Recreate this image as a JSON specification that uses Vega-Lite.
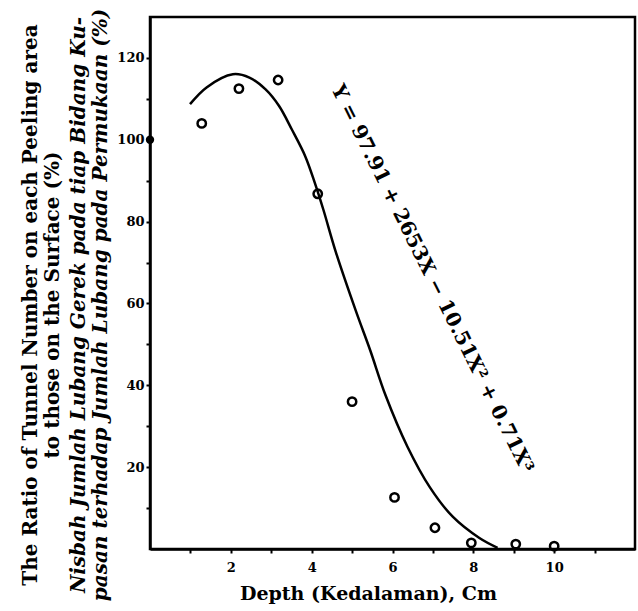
{
  "$schema": "https://vega.github.io/schema/vega-lite/v6.json",
  "width": 485,
  "height": 532,
  "autosize": {"type": "none"},
  "padding": {"left": 150, "top": 17, "right": 3, "bottom": 62},
  "background": "white",
  "config": {
    "view": {"stroke": "black", "strokeWidth": 2.5},
    "font": "DejaVu Serif",
    "axis": {
      "domainColor": "black", "domainWidth": 2.5, "tickColor": "black", "tickWidth": 2, "tickSize": 4,
      "labelFont": "DejaVu Serif", "labelFontWeight": "bold", "labelFontSize": 13, "labelColor": "black",
      "titleFont": "DejaVu Serif", "titleFontWeight": "bold", "titleFontSize": 19, "titleColor": "black", "grid": false
    }
  },
  "title": {
    "text": ["The Ratio of Tunnel Number on each Peeling area", "to those on the Surface (%)"],
    "subtitle": ["Nisbah Jumlah Lubang Gerek pada tiap Bidang Ku-", "pasan terhadap Jumlah Lubang pada Permukaan (%)"],
    "orient": "left",
    "anchor": "middle",
    "font": "DejaVu Serif", "fontWeight": "bold", "fontSize": 20, "lineHeight": 22, "color": "black",
    "subtitleFont": "DejaVu Serif", "subtitleFontWeight": "bold", "subtitleFontStyle": "italic", "subtitleFontSize": 20, "subtitleLineHeight": 22, "subtitleColor": "black",
    "subtitlePadding": 6,
    "offset": 6,
    "dx": -22
  },
  "datasets": {
    "obs": [
      {"depth": 0, "ratio": 100},
      {"depth": 1.28, "ratio": 104},
      {"depth": 2.2, "ratio": 112.5},
      {"depth": 3.17, "ratio": 114.6},
      {"depth": 4.15, "ratio": 86.8},
      {"depth": 5.0, "ratio": 36},
      {"depth": 6.05, "ratio": 12.6},
      {"depth": 7.05, "ratio": 5.2},
      {"depth": 7.95, "ratio": 1.5},
      {"depth": 9.05, "ratio": 1.2},
      {"depth": 10.0, "ratio": 0.7}
    ],
    "fit": [
      {"depth": 0.99, "ratio": 108.7},
      {"depth": 1.4, "ratio": 112.8},
      {"depth": 2.05, "ratio": 116.0},
      {"depth": 2.46, "ratio": 115.2},
      {"depth": 2.86, "ratio": 112.3},
      {"depth": 3.19, "ratio": 108.3},
      {"depth": 3.51, "ratio": 102.5},
      {"depth": 3.84, "ratio": 96},
      {"depth": 4.08, "ratio": 89.4},
      {"depth": 4.29, "ratio": 82.9},
      {"depth": 4.6, "ratio": 72.5},
      {"depth": 5.1, "ratio": 58},
      {"depth": 5.45, "ratio": 48.5},
      {"depth": 5.83, "ratio": 37.5},
      {"depth": 6.37, "ratio": 25},
      {"depth": 6.93, "ratio": 15},
      {"depth": 7.49, "ratio": 7.9},
      {"depth": 8.15, "ratio": 2.7},
      {"depth": 8.6, "ratio": 0.3}
    ],
    "eq": [
      {"depth": 6.98, "ratio": 66, "label": "Y = 97.91 + 2653X − 10.51X² + 0.71X³"}
    ]
  },
  "layer": [
    {
      "data": {"name": "fit"},
      "mark": {"type": "line", "interpolate": "catmull-rom", "color": "black", "strokeWidth": 2.5},
      "encoding": {
        "x": {"field": "depth", "type": "quantitative", "scale": {"domain": [0, 12], "nice": false},
          "axis": {"values": [1,2,3,4,5,6,7,8,9,10,11], "labelExpr": "datum.value % 2 == 0 ? datum.label : ''", "title": "Depth (Kedalaman), Cm", "titlePadding": 10, "labelPadding": 8, "titleX": 218}},
        "y": {"field": "ratio", "type": "quantitative", "scale": {"domain": [0, 130], "nice": false},
          "axis": {"values": [10,20,30,40,50,60,70,80,90,100,110,120], "labelExpr": "datum.value % 20 == 0 ? datum.label : ''", "title": null, "labelPadding": 2}}
      }
    },
    {
      "data": {"name": "obs"},
      "transform": [{"filter": "datum.depth > 0"}],
      "mark": {"type": "point", "shape": "circle", "filled": false, "color": "black", "strokeWidth": 2.5, "size": 70, "opacity": 1},
      "encoding": {
        "x": {"field": "depth", "type": "quantitative"},
        "y": {"field": "ratio", "type": "quantitative"}
      }
    },
    {
      "data": {"name": "obs"},
      "transform": [{"filter": "datum.depth == 0"}],
      "mark": {"type": "point", "shape": "circle", "filled": true, "color": "black", "size": 70, "opacity": 1, "clip": false},
      "encoding": {
        "x": {"field": "depth", "type": "quantitative"},
        "y": {"field": "ratio", "type": "quantitative"}
      }
    },
    {
      "data": {"name": "eq"},
      "mark": {"type": "text", "angle": 63.6, "font": "DejaVu Serif", "fontWeight": "bold", "fontSize": 20, "color": "black", "align": "center", "baseline": "middle"},
      "encoding": {
        "x": {"field": "depth", "type": "quantitative"},
        "y": {"field": "ratio", "type": "quantitative"},
        "text": {"field": "label"}
      }
    }
  ]
}
